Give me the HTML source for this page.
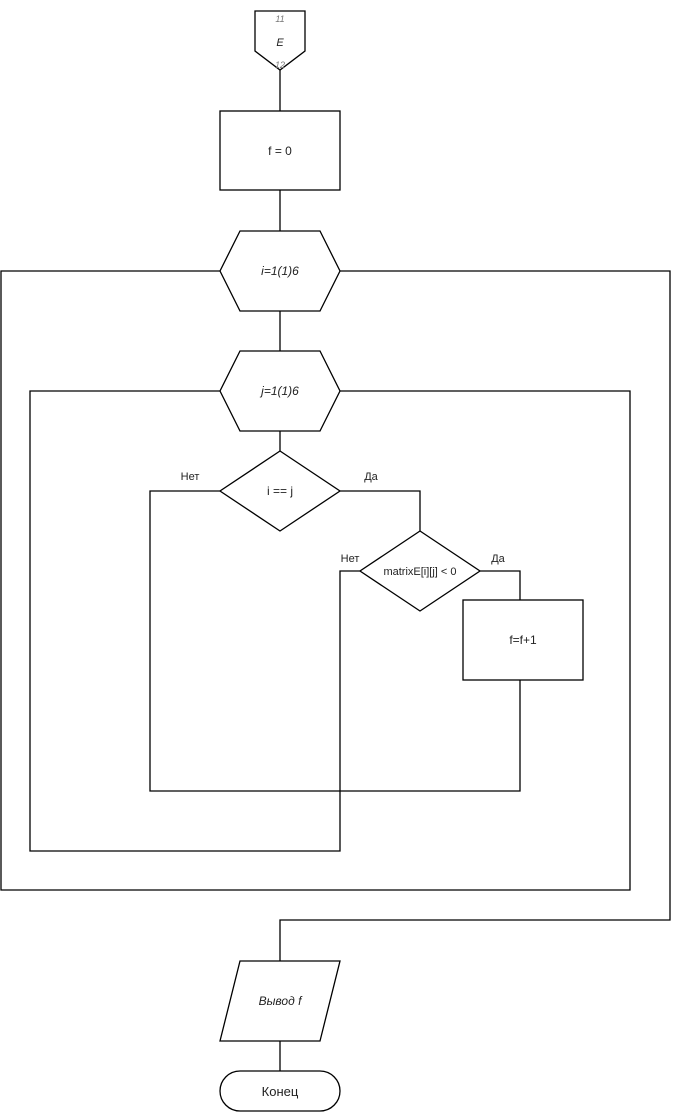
<!DOCTYPE html>
<html><head><style>body{margin:0;background:#fff}svg{display:block}</style></head><body>
<svg width="673" height="1115" xmlns="http://www.w3.org/2000/svg" font-family="Liberation Sans, sans-serif">
<g fill="none" stroke="#000" stroke-width="1.3">
<path d="M255,11 H305 V51 L280,70 L255,51 Z"/>
<path d="M280,70 V111"/>
<rect x="220" y="111" width="120" height="79"/>
<path d="M280,190 V231"/>
<path d="M240,231 H320 L340,271 L320,311 H240 L220,271 Z"/>
<path d="M220,271 H1 V890 H630 V391 H340"/>
<path d="M340,271 H670 V920 H280 V961"/>
<path d="M280,311 V351"/>
<path d="M240,351 H320 L340,391 L320,431 H240 L220,391 Z"/>
<path d="M220,391 H30 V851 H340 V571 H360"/>
<path d="M280,431 V451"/>
<path d="M280,451 L340,491 L280,531 L220,491 Z"/>
<path d="M220,491 H150 V791 H520 V680"/>
<path d="M340,491 H420 V531"/>
<path d="M420,531 L480,571 L420,611 L360,571 Z"/>
<path d="M480,571 H520 V600"/>
<rect x="463" y="600" width="120" height="80"/>
<path d="M240,961 H340 L320,1041 H220 Z"/>
<path d="M280,1041 V1071"/>
<rect x="220" y="1071" width="120" height="40" rx="20"/>
</g>
<g font-size="12" fill="#222" text-anchor="middle">
<text x="280" y="22" font-size="9" font-style="italic" fill="#777">11</text>
<text x="280" y="46" font-style="italic" font-size="11">Е</text>
<text x="280" y="68" font-size="9" font-style="italic" fill="#777">12</text>
<text x="280" y="155">f = 0</text>
<text x="280" y="275" font-style="italic">i=1(1)6</text>
<text x="280" y="395" font-style="italic">j=1(1)6</text>
<text x="280" y="495">i == j</text>
<text x="420" y="575" font-size="11">matrixE[i][j] &lt; 0</text>
<text x="523" y="644">f=f+1</text>
<text x="280" y="1005" font-style="italic">Вывод f</text>
<text x="280" y="1096" font-size="13">Конец</text>
<text x="190" y="480" font-size="11">Нет</text>
<text x="371" y="480" font-size="11">Да</text>
<text x="350" y="562" font-size="11">Нет</text>
<text x="498" y="562" font-size="11">Да</text>
</g>
</svg>
</body></html>
